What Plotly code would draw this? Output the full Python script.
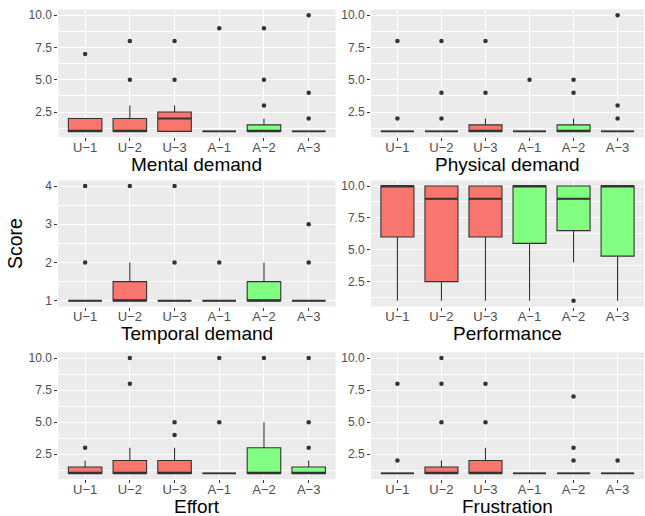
import plotly.graph_objects as go

categories = ["U−1", "U−2", "U−3", "A−1", "A−2", "A−3"]
panel_titles = ["Mental demand", "Physical demand", "Temporal demand",
                "Performance", "Effort", "Frustration"]

ten_ticks = [2.5, 5.0, 7.5, 10.0]
ten_ticktext = ["2.5", "5.0", "7.5", "10.0"]
ten_minor = [1.25, 3.75, 6.25, 8.75]
four_ticks = [1, 2, 3, 4]
four_ticktext = ["1", "2", "3", "4"]
four_minor = [1.5, 2.5, 3.5]

# Mental demand
mental_q1 = [1, 1, 1, 1, 1, 1]
mental_med = [1, 1, 2, 1, 1, 1]
mental_q3 = [2, 2, 2.5, 1, 1.5, 1]
mental_lo = [1, 1, 1, 1, 1, 1]
mental_hi = [2, 3, 3, 1, 2, 1]
mental_out = [[7], [5, 8], [5, 8], [9], [3, 5, 9], [2, 4, 10]]

# Physical demand
physical_q1 = [1, 1, 1, 1, 1, 1]
physical_med = [1, 1, 1, 1, 1, 1]
physical_q3 = [1, 1, 1.5, 1, 1.5, 1]
physical_lo = [1, 1, 1, 1, 1, 1]
physical_hi = [1, 1, 2, 1, 2, 1]
physical_out = [[2, 8], [2, 4, 8], [4, 8], [5], [4, 5], [2, 3, 10]]

# Temporal demand
temporal_q1 = [1, 1, 1, 1, 1, 1]
temporal_med = [1, 1, 1, 1, 1, 1]
temporal_q3 = [1, 1.5, 1, 1, 1.5, 1]
temporal_lo = [1, 1, 1, 1, 1, 1]
temporal_hi = [1, 2, 1, 1, 2, 1]
temporal_out = [[2, 4], [4], [2, 4], [2], [], [2, 3]]

# Performance
performance_q1 = [6, 2.5, 6, 5.5, 6.5, 4.5]
performance_med = [10, 9, 9, 10, 9, 10]
performance_q3 = [10, 10, 10, 10, 10, 10]
performance_lo = [1, 1, 1, 1, 4, 1]
performance_hi = [10, 10, 10, 10, 10, 10]
performance_out = [[], [], [], [], [1], []]

# Effort
effort_q1 = [1, 1, 1, 1, 1, 1]
effort_med = [1, 1, 1, 1, 1, 1]
effort_q3 = [1.5, 2, 2, 1, 3, 1.5]
effort_lo = [1, 1, 1, 1, 1, 1]
effort_hi = [2, 3, 3, 1, 5, 2]
effort_out = [[3], [8, 10], [4, 5], [5, 10], [10], [3, 5, 10]]

# Frustration
frustration_q1 = [1, 1, 1, 1, 1, 1]
frustration_med = [1, 1, 1, 1, 1, 1]
frustration_q3 = [1, 1.5, 2, 1, 1, 1]
frustration_lo = [1, 1, 1, 1, 1, 1]
frustration_hi = [1, 2, 3, 1, 1, 1]
frustration_out = [[2, 8], [5, 8, 10], [5, 8], [], [2, 3, 7], [2]]

panels = [
    (mental_q1, mental_med, mental_q3, mental_lo, mental_hi, mental_out, "ten"),
    (physical_q1, physical_med, physical_q3, physical_lo, physical_hi, physical_out, "ten"),
    (temporal_q1, temporal_med, temporal_q3, temporal_lo, temporal_hi, temporal_out, "four"),
    (performance_q1, performance_med, performance_q3, performance_lo, performance_hi, performance_out, "ten"),
    (effort_q1, effort_med, effort_q3, effort_lo, effort_hi, effort_out, "ten"),
    (frustration_q1, frustration_med, frustration_q3, frustration_lo, frustration_hi, frustration_out, "ten"),
]

RED = "#F8766D"
GREEN = "#80FF80"
LINE = "#333333"
W, H = 645, 516

col_px = [(58.3, 335.5), (371.0, 644.0)]
row_px = [(8.5, 136.7), (180.0, 306.7), (352.7, 480.0)]

fig = go.Figure()
layout = dict()
annotations = []

for i, (q1, med, q3, lo, hi, out, kind) in enumerate(panels):
    r, c = divmod(i, 2)
    n = i + 1
    xa = "x" if n == 1 else f"x{n}"
    ya = "y" if n == 1 else f"y{n}"
    for sl, color in ((slice(0, 3), RED), (slice(3, 6), GREEN)):
        fig.add_trace(go.Box(
            x=categories[sl], q1=q1[sl], median=med[sl], q3=q3[sl],
            lowerfence=lo[sl], upperfence=hi[sl],
            fillcolor=color, line=dict(color=LINE, width=1.1),
            width=0.75, whiskerwidth=0, boxpoints=False,
            xaxis=xa, yaxis=ya, showlegend=False, hoverinfo="skip"))
    # thicker median bar (ggplot's fattened median line)
    fig.add_trace(go.Box(
        x=categories, q1=med, median=med, q3=med,
        lowerfence=med, upperfence=med,
        fillcolor="rgba(0,0,0,0)", line=dict(color=LINE, width=1.9),
        width=0.75, whiskerwidth=0, boxpoints=False,
        xaxis=xa, yaxis=ya, showlegend=False, hoverinfo="skip"))
    ox, oy = [], []
    for cat, vals in zip(categories, out):
        for v in vals:
            ox.append(cat)
            oy.append(v)
    fig.add_trace(go.Scatter(
        x=ox, y=oy, mode="markers",
        marker=dict(color=LINE, size=4.5),
        xaxis=xa, yaxis=ya, showlegend=False, hoverinfo="skip"))

    x0, x1 = col_px[c]
    y0, y1 = row_px[r]
    if kind == "ten":
        yr, tv, tt, mv = [0.55, 10.45], ten_ticks, ten_ticktext, ten_minor
    else:
        yr, tv, tt, mv = [0.85, 4.15], four_ticks, four_ticktext, four_minor
    key = "" if n == 1 else str(n)
    layout["xaxis" + key] = dict(
        domain=[x0 / W, x1 / W], anchor=ya, type="category",
        categoryorder="array", categoryarray=categories, range=[-0.6, 5.6],
        showgrid=True, gridcolor="white", gridwidth=1.1, zeroline=False,
        showline=False, ticks="outside", ticklen=3, tickcolor=LINE, tickwidth=1,
        ticklabelstandoff=-5,
        tickfont=dict(size=13, color="#4D4D4D"), fixedrange=True)
    layout["yaxis" + key] = dict(
        domain=[1 - y1 / H, 1 - y0 / H], anchor=xa, range=yr,
        tickmode="array", tickvals=tv, ticktext=tt,
        minor=dict(tickmode="array", tickvals=mv, showgrid=True,
                   gridcolor="white", gridwidth=0.55, ticks=""),
        showgrid=True, gridcolor="white", gridwidth=1.1, zeroline=False,
        showline=False, ticks="outside", ticklen=3, tickcolor=LINE, tickwidth=1,
        tickfont=dict(size=12, color="#4D4D4D"), fixedrange=True)
    annotations.append(dict(
        text=panel_titles[i], xref="paper", yref="paper",
        x=(x0 + x1) / 2 / W, y=1 - (y1 + 27.5) / H,
        xanchor="center", yanchor="middle", showarrow=False,
        font=dict(size=19, color="black")))

annotations.append(dict(
    text="Score", xref="paper", yref="paper", x=15 / W, y=1 - 244 / H,
    xanchor="center", yanchor="middle", textangle=-90, showarrow=False,
    font=dict(size=19.5, color="black")))

fig.update_layout(
    width=W, height=H, margin=dict(l=0, r=0, t=0, b=0),
    paper_bgcolor="white", plot_bgcolor="#EBEBEB",
    boxmode="overlay", annotations=annotations,
    font=dict(family="Liberation Sans, Arial, sans-serif"),
    **layout)

fig.write_html("out.html", config={"displayModeBar": False},
               post_script="document.body.style.margin='0';document.body.style.overflow='hidden';")
